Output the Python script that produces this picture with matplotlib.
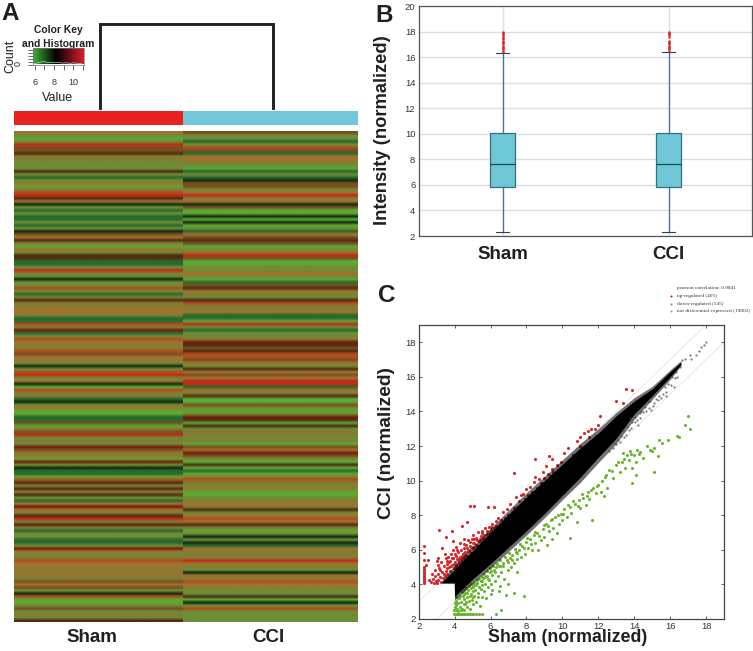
import numpy as np
import matplotlib
matplotlib.use("Agg")
import matplotlib.pyplot as plt
from matplotlib.colors import ListedColormap, LinearSegmentedColormap

plt.rcParams['font.family'] = ['Liberation Sans', 'DejaVu Sans']

W, H = 753, 651

# ---------- panel A data ----------
band_palette = ['#142c12', '#2a6a2e', '#5ca832', '#6f8c36', '#857c34', '#9f732f',
                '#7a4f20', '#4f2e12', '#b04e1e', '#c02c1a', '#7a1c0e']
sham_rows = [5,3,2,3,9,6,6,7,4,4,3,3,3,7,3,1,3,5,2,4,8,9,7,5,0,3,1,3,1,1,3,1,3,0,6,5,7,4,2,5,3,
             7,7,1,1,3,9,4,3,0,3,3,8,3,1,4,7,4,4,5,5,4,1,1,8,4,10,1,3,8,5,4,4,8,6,5,5,3,0,3,8,9,3,
             5,0,2,8,4,4,1,0,3,5,2,2,1,1,6,2,4,6,9,3,4,3,10,6,4,5,2,10,3,0,1,1,2,8,7,4,7,4,7,3,1,5,
             10,5,4,7,9,4,7,4,1,3,3,1,1,3,10,5,3,4,8,5,5,4,5,4,4,6,5,6,3,0,8,2,2,3,6,3,4,3,7]
cci_rows = [6,3,3,1,3,8,6,1,5,5,4,3,2,1,3,1,0,6,6,3,5,9,4,5,0,6,2,2,0,2,0,2,3,1,5,6,7,6,2,3,5,
            9,6,2,2,3,3,5,4,2,1,6,7,5,4,3,7,8,4,4,5,1,1,2,9,3,1,3,3,4,10,7,6,7,8,8,6,5,3,7,5,6,5,
            9,9,1,5,4,7,2,2,6,3,2,3,10,7,2,7,3,4,4,3,4,2,6,5,10,6,3,2,7,2,1,2,4,8,4,3,5,2,2,3,4,5,
            4,7,3,5,8,5,7,4,2,3,0,3,0,1,5,4,4,4,9,5,4,3,0,5,4,8,5,4,3,3,7,2,0,3,8,3,3,3,3]
group_labels = ['Sham', 'CCI']
group_colors = ['#e8221f', '#72c7d9']

key_hist_x = [5.9, 6.2, 6.5, 6.9, 7.3, 7.7, 8.1, 8.5, 8.9, 9.3, 9.7, 10.1, 10.5, 10.9]
key_hist_y = [0.3, 0.5, 0.8, 1.1, 0.7, 0.8, 0.6, 0.7, 0.5, 0.6, 0.4, 0.6, 0.4, 0.3]

# ---------- panel B data ----------
box_whislo = [2.3, 2.3]
box_q1 = [5.85, 5.85]
box_med = [7.6, 7.62]
box_q3 = [10.03, 10.05]
box_whishi = [16.3, 16.4]
sham_fliers = [16.4, 16.5, 16.6, 16.7, 16.8, 16.9, 17.0, 17.1, 17.2, 17.3, 17.4, 17.5, 17.6, 17.7, 17.8, 17.9, 18.0]
cci_fliers = [16.5, 16.6, 16.7, 16.8, 16.9, 17.0, 17.1, 17.2, 17.3, 17.6, 17.7, 17.8, 17.9, 18.0]

# ---------- panel C data ----------
band_x =     [3.3, 3.98, 4.0, 5.0, 6.0, 7.0, 8.0, 9.0, 10.0, 11.0, 12.0, 13.0, 14.0, 15.0, 16.0, 16.6]
band_upper = [4.15, 4.85, 4.9, 5.95, 7.0, 8.05, 9.05, 10.0, 10.95, 11.9, 12.75, 13.75, 14.6, 15.3, 16.3, 16.85]
band_lower = [4.1, 4.1, 3.3, 4.3, 5.2, 6.15, 7.1, 8.1, 9.15, 10.2, 11.35, 12.45, 13.85, 14.9, 16.0, 16.7]
fuzz_upper = [4.2, 5.1, 5.15, 6.2, 7.25, 8.3, 9.3, 10.25, 11.2, 12.15, 13.0, 13.95, 14.8, 15.45, 16.4, 16.95]
fuzz_lower = [4.05, 4.05, 3.1, 4.05, 4.95, 5.9, 6.85, 7.85, 8.9, 9.9, 11.05, 12.15, 13.55, 14.7, 15.85, 16.65]

gray_points = [(16.35,16.28),(16.53,16.57),(16.66,16.95),(16.85,17.04),(17.09,17.24),(17.18,17.04),
               (17.46,17.24),(17.74,17.71),(17.87,17.85),(18.02,18.0),(16.2,15.42),(15.79,15.13),
               (15.79,14.9),(15.33,14.65),(14.96,14.07),(14.77,14.56),(14.59,14.27),(14.31,13.89),
               (14.03,13.41),(13.84,13.03),(13.57,12.65),(13.19,12.26),(13.75,13.6),(14.4,14.0),
               (15.1,14.5),(13.0,12.1),(12.8,11.9),(13.4,12.9),(14.2,13.2),(15.5,14.8),(16.1,16.0),(17.6,17.5),
               (13.1,12.35),(13.25,12.6),(13.45,12.55),(13.6,13.1),(13.7,12.9),(13.9,13.4),(14.05,13.7),(14.15,13.5),
               (14.35,13.65),(14.5,13.95),(14.65,14.05),(14.8,14.2),(14.9,14.6),(15.05,14.3),(15.2,14.75),(15.4,14.9),
               (15.6,15.0),(15.7,15.4),(15.9,15.6),(16.05,15.55),(16.25,15.95),(16.4,16.0),(12.6,11.7),(12.9,12.2)]

up_points = [(2.3,4.1),(2.3,4.2),(2.3,4.3),(2.3,4.4),(2.3,4.5),(2.3,4.6),(2.3,4.7),(2.3,4.8),(2.3,4.9),(2.3,5.0),
    (2.3,5.4),(2.3,5.8),(2.3,6.25),(2.5,5.4),(3.15,7.17),(3.83,7.1),(3.5,6.73),(3.93,6.5),(4.4,7.4),(4.7,7.6),
    (4.85,8.56),(5.07,8.56),(5.87,8.5),(6.2,8.5),(7.3,10.45),(8.5,11.25),(9.24,11.4),(9.45,11.25),(10.1,11.6),
    (2.7,4.15),(2.8,4.3),(2.85,4.1),(2.9,4.5),(2.95,4.2),(3.0,4.1),(3.05,5.1),(3.1,4.6),(3.1,4.25),(3.15,4.95),
    (3.2,4.4),(3.25,5.3),(3.3,4.7),(3.3,6.1),(3.35,4.35),(3.4,5.05),(3.45,4.5),(3.5,5.5),(3.5,4.8),(3.55,5.2),
    (3.6,4.6),(3.65,5.6),(3.7,5.0),(3.75,4.75),(3.75,5.35),(3.8,5.75),(3.85,5.15),(3.9,6.0),(3.9,5.5),(3.95,4.95),
    (4.0,5.3),(4.05,5.65),(4.1,6.15),(4.1,5.05),(4.15,5.45),(4.2,5.85),(4.25,5.25),(4.3,6.4),(4.3,5.6),(4.35,6.0),
    (4.4,5.35),(4.45,5.75),(4.5,6.6),(4.5,6.1),(4.55,5.5),(4.6,5.9),(4.65,6.3),(4.7,5.65),(4.75,6.55),(4.8,6.0),
    (4.85,6.25),(4.9,5.8),(4.95,6.6),(5.0,6.15),(5.05,6.85),(5.1,6.4),(5.15,5.95),(5.2,6.7),(5.25,6.25),(5.3,7.05),
    (5.35,6.5),(5.4,6.15),(5.45,6.8),(5.5,6.45),(5.55,7.1),(5.6,6.7),(5.65,6.4),(5.7,7.25),(5.8,6.9),(5.9,7.3),
    (6.0,7.15),(6.1,7.5),(6.2,7.25),(6.3,7.4),(6.4,7.85),(6.5,7.5),(6.6,7.7),(6.7,8.2),(6.8,7.85),(6.9,8.35),
    (7.0,8.0),(7.1,8.65),(7.2,8.2),(7.3,8.4),(7.4,9.05),(7.5,8.5),(7.6,8.8),(7.7,9.15),(7.8,9.25),(7.9,8.95),
    (8.0,9.5),(8.1,9.15),(8.2,9.65),(8.3,9.35),(8.4,9.95),(8.5,10.2),(8.6,9.6),(8.7,10.1),(8.8,9.85),(8.9,10.5),
    (9.0,10.15),(9.1,10.85),(9.2,10.4),(9.3,10.25),(9.4,10.7),(9.5,10.5),(9.7,10.9),(9.9,11.05),(10.3,11.9),(10.6,11.5),
    (10.8,12.3),(11.0,12.0),(11.2,12.75),(11.5,12.5),(11.6,13.0),(12.0,13.2),(11.8,13.0),(12.1,13.75),(11.9,12.6),
    (13.0,14.6),(13.4,14.5),(13.55,15.3),(13.85,15.25),(11.4,12.85),(11.0,12.55),(2.4,5.1),(2.6,4.25),
    (2.75,4.6),(2.9,4.85),(3.0,5.35),(3.1,5.55),(3.2,4.85),(3.25,4.15),(3.4,4.6),(3.45,5.75),(3.55,4.95),(3.6,5.35),
    (3.7,5.3),(3.8,5.05),(3.85,5.5),(3.95,5.2),(4.0,5.75),(4.05,5.15),(4.15,6.0),(4.2,5.4),(4.25,5.55),(4.35,5.45),
    (4.4,5.65),(4.5,5.8),(4.55,6.35),(4.6,5.7),(4.7,6.1),(4.75,5.95),(4.85,6.45),(4.9,6.15),(5.0,6.4),(5.05,6.1),
    (5.1,6.65),(5.2,6.3),(5.25,6.55),(5.3,6.2),(5.4,6.6),(5.45,6.35),(5.5,6.95),(5.6,6.5),(5.65,6.85),(5.7,6.6),
    (5.8,7.1),(5.85,6.75),(5.95,7.0),(6.05,7.3),(6.15,7.05),(6.3,7.65),(6.45,7.3),(6.6,7.45),(6.75,7.6),(6.95,7.75),
    (7.1,7.95),(7.25,8.15),(7.45,8.3),(7.65,8.5),(7.85,8.6),(8.05,8.85),(8.25,9.05),(8.5,9.3),(8.75,9.5),(9.05,9.75)]

down_points = [(3.95,2.3),(4.0,2.3),(4.05,2.3),(4.1,2.3),(4.15,2.3),(4.2,2.3),(4.25,2.3),(4.3,2.3),(4.35,2.3),(4.4,2.3),
    (4.45,2.3),(4.5,2.3),(4.55,2.3),(4.6,2.3),(4.7,2.3),(4.75,2.3),(4.85,2.3),(4.95,2.3),(5.05,2.3),(5.2,2.3),(5.35,2.3),
    (5.5,2.3),(6.3,2.3),(6.6,2.5),(7.85,3.35),(7.3,3.5),(6.95,4.0),(6.85,3.4),(6.45,3.6),(6.1,3.7),
    (3.95,2.5),(4.0,2.7),(4.0,2.95),(4.05,2.5),(4.1,2.8),(4.1,3.05),(4.15,2.6),(4.2,2.95),(4.2,2.45),(4.25,3.2),
    (4.3,2.7),(4.35,3.0),(4.4,2.55),(4.45,3.35),(4.5,2.85),(4.5,3.15),(4.55,2.5),(4.6,3.5),(4.65,3.0),(4.7,2.7),
    (4.7,3.3),(4.75,3.65),(4.8,3.05),(4.85,2.6),(4.9,3.45),(4.9,3.8),(4.95,3.1),(5.0,3.6),(5.0,2.85),(5.05,3.95),
    (5.1,3.35),(5.15,3.7),(5.2,3.0),(5.25,4.1),(5.3,3.5),(5.35,3.85),(5.4,2.75),(5.45,4.2),(5.5,3.3),(5.55,3.95),
    (5.6,4.35),(5.65,3.6),(5.7,4.05),(5.75,3.2),(5.8,4.5),(5.85,3.85),(5.9,4.25),(5.95,4.7),(6.0,3.45),(6.05,4.05),
    (6.1,4.55),(6.2,4.85),(6.25,4.2),(6.3,5.0),(6.4,4.5),(6.5,3.9),(6.55,5.05),(6.6,4.7),(6.7,5.25),(6.75,4.3),
    (6.9,5.4),(7.0,4.85),(7.1,5.55),(7.15,5.0),(7.2,5.7),(7.3,5.25),(7.4,5.9),(7.45,4.7),(7.5,5.45),(7.6,6.0),
    (7.7,5.6),(7.75,6.2),(7.9,5.75),(8.0,6.45),(8.1,6.1),(8.2,6.6),(8.3,6.0),(8.4,6.85),(8.5,6.4),(8.6,7.0),
    (8.65,6.0),(8.8,6.55),(8.9,7.2),(9.0,6.75),(9.1,7.5),(9.15,6.3),(9.25,7.1),(9.35,7.7),(9.5,7.25),(9.6,7.9),
    (9.7,6.95),(9.8,7.5),(9.9,8.1),(10.0,7.75),(10.1,8.35),(10.25,7.9),(10.4,6.7),(10.4,8.5),(10.5,8.15),(10.7,8.65),
    (10.8,7.6),(10.9,8.9),(11.0,8.4),(11.15,9.0),(11.3,8.6),(11.4,9.35),(11.65,7.75),(11.5,8.95),(11.7,9.6),(11.85,9.3),
    (12.0,9.75),(12.15,9.35),(12.35,10.2),(12.5,9.6),(12.6,10.6),(12.8,10.15),(13.0,10.9),(13.2,10.5),(13.3,11.1),
    (13.5,10.75),(13.7,11.2),(13.85,10.75),(14.0,11.5),(14.1,11.05),(14.3,11.65),(14.5,11.3),(14.1,10.35),(14.9,11.8),(15.0,11.7),
    (15.3,11.4),(15.1,10.5),(15.4,12.35),(15.55,12.2),(15.9,12.35),(16.4,12.6),(16.5,12.5),(16.85,13.2),(17.0,13.75),(17.1,13.0),
    (9.4,6.6),(12.3,9.1),(13.9,9.85),(13.35,11.6),(13.6,11.5),(13.75,11.7),(14.15,11.8),(14.25,11.55),(14.7,12.0),(15.1,11.9),
    (4.05,2.95),(4.1,3.25),(4.2,3.2),(4.3,3.35),(4.35,2.5),(4.4,3.55),(4.5,3.45),(4.55,3.7),(4.6,2.85),(4.65,3.8),
    (4.7,3.5),(4.8,3.9),(4.85,3.35),(4.9,4.0),(5.0,3.85),(5.05,3.3),(5.1,4.1),(5.2,3.95),(5.25,4.25),(5.3,3.25),
    (5.35,4.3),(5.45,3.75),(5.5,4.45),(5.55,4.2),(5.65,4.6),(5.7,4.4),(5.8,4.75),(5.85,4.3),(5.95,4.95),(6.05,4.8),
    (6.15,5.05),(6.25,4.7),(6.35,5.2),(6.45,5.05),(6.55,5.4),(6.7,5.05),(6.8,5.6),(6.95,5.3),(7.05,5.8),(7.2,5.4),
    (7.35,6.05),(7.5,5.8),(7.65,6.35),(7.85,6.1),(8.05,6.7),(8.25,6.35),(8.45,7.05),(8.7,6.8),(8.95,7.45),(9.2,7.35),
    (9.45,7.8),(9.75,8.0),(10.05,8.1),(10.3,8.6),(10.6,8.8),(10.85,8.55),(11.1,9.2),(11.35,9.1),(11.6,9.45),(11.95,9.7),
    (12.2,10.0),(12.45,10.3),(12.75,10.55),(13.1,11.05),(13.45,11.25),(13.8,11.55)]

legend_rows = ['up-regulated (405)', 'down-regulated (545)', 'not differential expressed (19802)']
axis_ticks = [2, 4, 6, 8, 10, 12, 14, 16, 18]

# ---------- layout ----------
fig = plt.figure(figsize=(W / 100, H / 100), dpi=100, facecolor='white')


def px_axes(x0, y0, x1, y1, **kw):
    return fig.add_axes([x0 / W, 1 - y1 / H, (x1 - x0) / W, (y1 - y0) / H], **kw)


page = px_axes(0, 0, W, H)
page.set_xlim(0, W)
page.set_ylim(H, 0)
page.axis('off')

# panel letters
for letter, x, y in [('A', 1, 14), ('B', 375, 15), ('C', 378, 295)]:
    page.text(x, y, letter, fontsize=17.5, fontweight='bold', color='#231f20', va='center', ha='left')

# dendrogram
page.plot([100, 100, 273, 273], [108, 23.5, 23.5, 108], color='#231f20', lw=2.1, solid_joinstyle='miter')

# column colour bar
page.fill_between([14, 183.3], 111, 125, color=group_colors[0], lw=0)
page.fill_between([183.3, 358], 111, 125, color=group_colors[1], lw=0)

# heatmap: one column per group, left column narrower as in the figure
cmap_h = ListedColormap(band_palette)
for rows, x0, x1 in [(sham_rows, 14, 183.3), (cci_rows, 183.3, 358)]:
    ax_h = px_axes(x0, 131, x1, 622)
    ax_h.imshow(np.array(rows).reshape(-1, 1), aspect='auto', cmap=cmap_h, vmin=-0.5, vmax=10.5,
                interpolation='bilinear', interpolation_stage='rgba')
    ax_h.axis('off')
page.text(92, 637, group_labels[0], fontsize=13.5, fontweight='bold', color='#231f20', ha='center', va='center')
page.text(268, 637, group_labels[1], fontsize=13.5, fontweight='bold', color='#231f20', ha='center', va='center')

# colour key
ax_k = px_axes(33, 47.5, 84, 64.5)
key_cmap = LinearSegmentedColormap.from_list('key', [(0, '#3fb03a'), (0.45, '#000000'), (1, '#d91f2b')])
ax_k.imshow(np.linspace(0, 1, 256).reshape(1, -1), aspect='auto', cmap=key_cmap,
            extent=[5.8, 11.15, 0, 6])
ax_k.plot(key_hist_x, key_hist_y, color='#9fd8d8', lw=0.5)
ax_k.set_xlim(5.8, 11.15)
ax_k.set_ylim(0, 6)
ax_k.set_xticks([6, 7, 8, 9, 10, 11])
ax_k.set_xticklabels(['6', '', '8', '', '10', ''], fontsize=6.5, color='#333333')
ax_k.set_yticks([0, 1, 2, 3, 4, 5])
ax_k.set_yticklabels([])
ax_k.tick_params(length=3.5, width=0.5, pad=6.5, color='#333333')
for s in ax_k.spines.values():
    s.set_linewidth(0.5)
    s.set_color('#777777')
page.text(58, 30, 'Color Key', fontsize=7.4, fontweight='bold', ha='center', va='center', color='#231f20')
page.text(58, 44, 'and Histogram', fontsize=7.4, fontweight='bold', ha='center', va='center', color='#231f20')
page.text(58, 98, 'Value', fontsize=9, ha='center', va='center', color='#231f20')
page.text(10, 56, 'Count', fontsize=9, rotation=90, ha='center', va='center', color='#231f20')
page.text(18, 63, '0', fontsize=6.5, rotation=90, ha='center', va='center', color='#231f20')

# panel B
ax_b = px_axes(419.5, 6, 751.6, 236)
stats = []
for i, fl in enumerate([sham_fliers, cci_fliers]):
    stats.append(dict(med=box_med[i], q1=box_q1[i], q3=box_q3[i], whislo=box_whislo[i],
                      whishi=box_whishi[i], fliers=fl, label=group_labels[i]))
ax_b.grid(True, color='#dedede', lw=1.0, zorder=0)
ax_b.set_axisbelow(True)
ax_b.bxp(stats, positions=[1, 2], widths=0.15, patch_artist=True,
         boxprops=dict(facecolor='#6fc6d6', edgecolor='#2d7478', lw=0.9),
         medianprops=dict(color='#0e4a50', lw=0.9),
         whiskerprops=dict(color='#4a6aa0', lw=0.9),
         capprops=dict(color='#2f3f4f', lw=0.8), capwidths=0.08,
         flierprops=dict(marker='o', markersize=1.5, markerfacecolor='#d8242c',
                         markeredgecolor='#d8242c', markeredgewidth=0.2))
ax_b.set_xlim(0.5, 2.5)
ax_b.set_ylim(2, 20)
ax_b.set_yticks(np.arange(2, 21, 2))
ax_b.set_xticks([1, 2])
ax_b.set_xticklabels(group_labels, fontsize=13.5, fontweight='bold', color='#231f20')
ax_b.tick_params(axis='x', length=0, pad=7)
ax_b.tick_params(axis='y', length=0, labelsize=6.8, labelcolor='#333333', pad=3)
for s in ax_b.spines.values():
    s.set_color('#555555')
    s.set_linewidth(0.9)
page.text(383, 130, 'Intensity (normalized)', fontsize=13.2, fontweight='bold', rotation=90,
          ha='center', va='center', color='#231f20')

# panel C
ax_c = px_axes(418.7, 325, 724, 619)
ax_c.set_xlim(2, 19)
ax_c.set_ylim(2, 19)
ax_c.plot([2, 19], [3, 20], color='#dddddd', lw=0.5, zorder=1)
ax_c.plot([3, 19], [2, 18], color='#dddddd', lw=0.5, zorder=1)
ax_c.fill_between(band_x, fuzz_lower, fuzz_upper, color='#000000', alpha=0.55, lw=0, zorder=2)
ax_c.fill_between(band_x, band_lower, band_upper, color='#000000', lw=0, zorder=3)
gx, gy = zip(*gray_points)
ax_c.scatter(gx, gy, s=2.5, color='#444444', alpha=0.7, lw=0, zorder=3)
ux, uy = zip(*up_points)
ax_c.scatter(ux, uy, s=5, color='#d9262c', lw=0, zorder=1.5)
dx, dy = zip(*down_points)
ax_c.scatter(dx, dy, s=5, color='#6ab62e', lw=0, zorder=1.5)
ax_c.set_xticks(axis_ticks)
ax_c.set_yticks(axis_ticks)
ax_c.tick_params(direction='in', length=2.5, width=0.6, top=True, right=True, labelsize=6.8,
                 labelcolor='#333333', pad=2, color='#444444')
for s in ax_c.spines.values():
    s.set_color('#444444')
    s.set_linewidth(0.9)
page.text(568, 638, 'Sham (normalized)', fontsize=12.8, fontweight='bold', ha='center', va='center', color='#231f20')
page.text(387, 443, 'CCI (normalized)', fontsize=13.8, fontweight='bold', rotation=90,
          ha='center', va='center', color='#231f20')

# panel C legend
lx = 677
page.text(lx, 288.5, 'pearson correlation: 0.9841', fontsize=3.9, family='Liberation Serif', va='center', color='#333333')
for yy, label, col in zip([296, 303.5, 311], legend_rows, ['#d9262c', '#6ab62e', '#aaaaaa']):
    page.text(lx, yy, label, fontsize=3.9, family='Liberation Serif', va='center', color='#333333')
    page.scatter([671], [yy], s=2.5, color=col, lw=0)

fig.savefig('out.png', dpi=100, facecolor='white')
